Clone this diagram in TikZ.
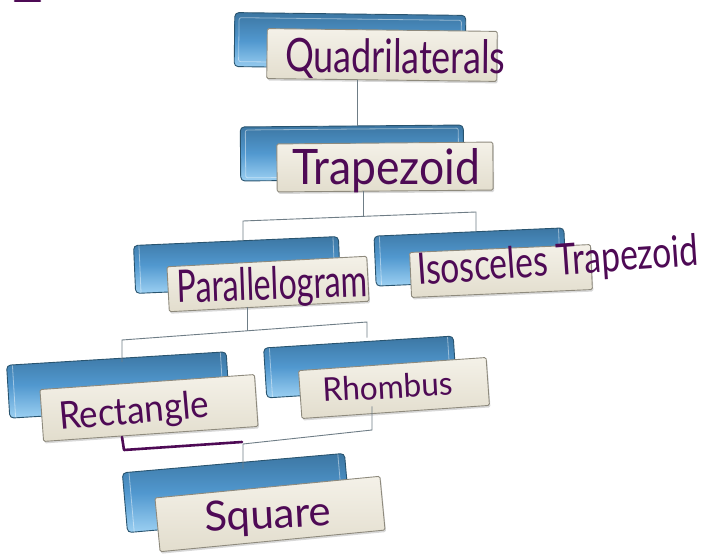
\documentclass[tikz,border=0pt]{standalone}
\usepackage{fontspec}
\newfontfamily\hand{Lato}
\usetikzlibrary{calc,shadows}
\definecolor{ink}{HTML}{4E0A55}
\definecolor{bluedark}{HTML}{29546F}
\definecolor{bluetop}{HTML}{3C76A2}
\definecolor{bluemid}{HTML}{5198CF}
\definecolor{bluebot}{HTML}{9CD0F2}
\definecolor{creamtop}{HTML}{F4F1E8}
\definecolor{creambot}{HTML}{E2DDCD}
\definecolor{creamedge}{HTML}{8E8A7D}
\definecolor{connc}{HTML}{6F7D86}
\tikzset{
  bluebox/.style={draw=bluedark, line width=0.9pt, rounded corners=4pt,
    top color=bluetop, bottom color=bluebot, middle color=bluemid, inner sep=0pt,
    path picture={\draw[white, opacity=0.45, line width=0.8pt, rounded corners=2pt]
      ([shift={(5pt,-5pt)}]path picture bounding box.north west) rectangle
      ([shift={(-5pt,5pt)}]path picture bounding box.south east);}},
  creambox/.style={draw=creamedge, line width=0.9pt, rounded corners=1.5pt,
    top color=creamtop, bottom color=creambot, inner sep=0pt,
    drop shadow={shadow xshift=1pt, shadow yshift=-2pt, opacity=0.3}},
  lbl/.style={text=ink, inner sep=0pt, anchor=base west, font=\hand},
  conn/.style={draw=connc, line width=0.9pt},
  inkline/.style={draw=ink, line width=2.6pt, line cap=round, line join=round},
}
\begin{document}
\begin{tikzpicture}[x=1pt,y=-1pt]
\useasboundingbox[fill=white] (0,0) rectangle (702,556);

% Quadrilaterals
\node[bluebox, minimum width=231pt, minimum height=54pt, rotate=-0.7] (Qb) at (350,41) {};
\node[creambox, minimum width=230pt, minimum height=50pt, rotate=-0.7] (Qc) at (382,55) {};
\node[lbl, rotate=-0.5] (tQ) at (285,72) {\resizebox{220pt}{34pt}{Quadrilaterals}};

% Trapezoid
\node[bluebox, minimum width=223pt, minimum height=54pt, rotate=0.5] (Tb) at (352,153) {};
\node[creambox, minimum width=216pt, minimum height=48pt, rotate=0.5] (Tc) at (385,167) {};
\node[lbl] (tT) at (292,185) {\resizebox{188pt}{36pt}{Trapezoid}};

% Parallelogram
\node[bluebox, minimum width=205pt, minimum height=48pt, rotate=2.5] (Pb) at (237,265) {};
\node[creambox, minimum width=200pt, minimum height=45pt, rotate=3] (Pc) at (268,284) {};
\node[lbl, rotate=2] (tP) at (177,303) {\resizebox{191pt}{33pt}{Parallelogram}};

% Isosceles Trapezoid
\node[bluebox, minimum width=190pt, minimum height=50pt, rotate=2.5] (Ib) at (470,257) {};
\node[creambox, minimum width=181pt, minimum height=45pt, rotate=2.5] (Ic) at (501,271) {};
\node[lbl, rotate=4] (tI) at (418,285) {\resizebox{282pt}{32pt}{Isosceles Trapezoid}};

% Rectangle
\node[bluebox, minimum width=220pt, minimum height=53pt, rotate=3.5] (Rb) at (118,385) {};
\node[creambox, minimum width=215pt, minimum height=52pt, rotate=4] (Rc) at (149,408) {};
\node[lbl, rotate=5] (tR) at (60,430) {\resizebox{150pt}{28pt}{Rectangle}};

% Rhombus
\node[bluebox, minimum width=190pt, minimum height=50pt, rotate=3.6] (Hb) at (360,367) {};
\node[creambox, minimum width=188pt, minimum height=48pt, rotate=4] (Hc) at (394,388) {};
\node[lbl, rotate=3] (tH) at (323,402) {\resizebox{130pt}{24pt}{Rhombus}};

% Square
\node[bluebox, minimum width=223pt, minimum height=60pt, rotate=5] (Sb) at (236,493) {};
\node[creambox, minimum width=226pt, minimum height=54pt, rotate=5.5] (Sc) at (270,514) {};
\node[lbl, rotate=3] (tS) at (205,532) {\resizebox{127pt}{30pt}{Square}};

% connectors
\coordinate (tq) at ($(Tb.north)+(6,0)$);
\draw[conn] (tq |- Qc.south) -- (tq);

\coordinate (tbL) at (243,221);
\coordinate (tbR) at (476,212);
\coordinate (tbS) at (363,216.4);
\draw[conn] (tbS |- Tc.south) -- (tbS);
\draw[conn] (tbL |- Pb.north) -- (tbL) -- (tbR) -- (tbR |- Ib.north);

\coordinate (pbL) at (122,340);
\coordinate (pbR) at (367,322);
\coordinate (pbS) at (247,330.8);
\draw[conn] (pbS |- Pc.south) -- (pbS);
\draw[conn] ($(pbL |- Rb.north)+(0,4)$) -- (pbL) -- (pbR) -- ($(pbR |- Hb.north)+(0,-4)$);

\coordinate (hbR) at (372,430);
\coordinate (hbL) at (243,444);
\draw[conn] ($(hbR |- Hc.south)+(0,-6)$) -- (hbR) -- (hbL) -- ($(hbL |- Sb.north)+(0,6)$);

% handwritten strokes
\draw[inkline] (122,437) -- (124,450) -- (242,442);
\draw[inkline] (15,1) -- (40,1);
\end{tikzpicture}
\end{document}
